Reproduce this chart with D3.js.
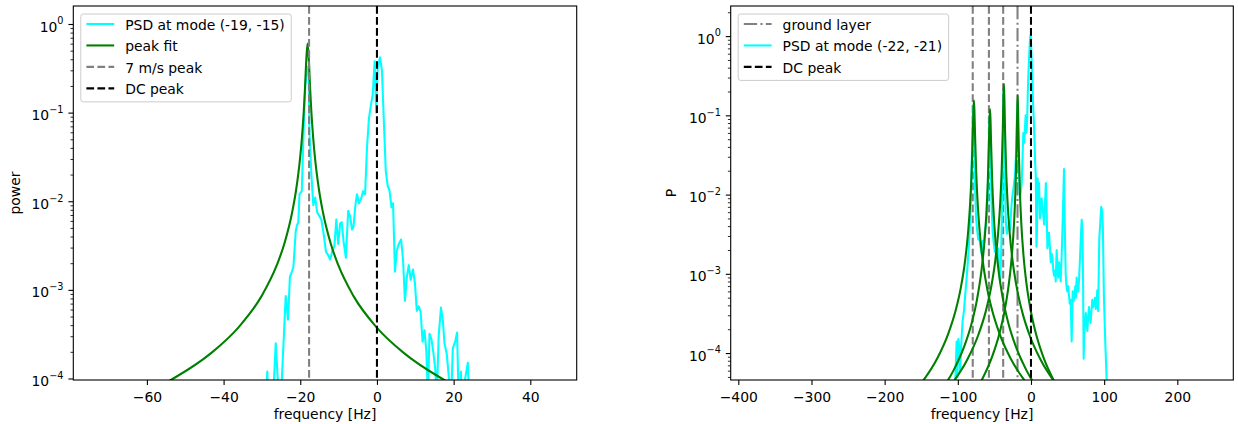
<!DOCTYPE html>
<html><head><meta charset="utf-8">
<script src="https://cdn.jsdelivr.net/npm/d3@7"></script>
<style>
body{margin:0;background:#fff}
svg{display:block}
text{font-family:"DejaVu Sans",sans-serif;fill:#000}
</style></head>
<body>
<script>
// ---------------- data ----------------
const leftXTicks = [-60,-40,-20,0,20,40];
const rightXTicks = [-400,-300,-200,-100,0,100,200];
const yTickExps = [0,-1,-2,-3,-4];

const leftLegend = ["PSD at mode (-19, -15)","peak fit","7 m/s peak","DC peak"];
const rightLegend = ["ground layer","PSD at mode (-22, -21)","DC peak"];

const leftPeakLine = -17.7;   // 7 m/s peak
const dcLine = 0;             // DC peak
const rightLayerLines = [-79.6,-57.5,-38];
const rightGroundLine = -18.4;

const leftPsd = [[-29.5,2e-5],[-28.6,1.2e-4],[-28.2,3e-5],[-27.4,3e-5],[-26.4,2.5e-4],[-25.2,3e-5],[-24.9,8e-5],
[-23.8,8.5e-4],[-23.2,4.6e-4],[-22.7,1.4e-3],[-22.2,1.6e-3],[-21.8,1.8e-3],[-21.2,4.5e-3],[-20.9,5.3e-3],[-20.5,5.8e-3],
[-20.2,0.012],[-19.6,0.013],[-19.2,0.05],[-18.7,0.2],[-18.2,0.33],[-17.8,0.25],[-17.6,0.06],[-17.1,0.02],[-16.6,0.009],
[-16.1,0.011],[-15.6,0.0075],[-15,0.0068],[-14.5,0.0062],[-13.8,0.004],[-13.3,0.0027],[-12.8,0.0025],[-12.2,0.0022],
[-11.6,0.0028],[-11.1,0.0031],[-10.6,0.0062],[-10.1,0.0033],[-9.6,0.0056],[-9.2,0.0058],[-8.7,0.0035],[-8.1,0.0023],
[-7.5,0.0078],[-7.0,0.0068],[-6.5,0.0048],[-6.1,0.0052],[-5.6,0.0092],[-5.2,0.012],[-4.7,0.0095],[-4.1,0.0108],
[-3.6,0.013],[-3.1,0.012],[-2.6,0.04],[-2.1,0.085],[-1.6,0.12],[-1.1,0.16],[-0.6,0.38],[-0.2,0.1],[0.2,0.33],[0.8,0.42],
[1.3,0.3],[1.8,0.08],[2.3,0.022],[2.8,0.015],[3.3,0.013],[3.8,0.0085],[4.2,0.0095],[4.7,0.0016],[5.2,0.0028],[5.7,0.0033],
[6.3,0.0037],[6.8,0.0022],[7.3,7.5e-4],[7.8,1.4e-3],[8.3,1.9e-3],[8.8,1.3e-3],[9.4,1.7e-3],[9.9,1.2e-3],[10.4,5.8e-4],
[10.9,6.5e-4],[11.4,5.6e-4],[11.9,2.6e-4],[12.4,3.5e-4],[12.9,2e-4],[13.3,6e-5],[13.7,3.2e-4],[14.2,2.8e-4],[14.7,2e-4],
[15.2,1.3e-4],[15.6,6e-5],[16.1,3e-4],[16.7,6.3e-4],[17.2,4.5e-4],[17.6,2.5e-4],[18.2,1.9e-4],[18.7,1.1e-4],[19.2,4e-5],
[19.8,2.2e-4],[20.4,2.6e-4],[20.9,3.3e-4],[21.4,4e-5],[21.9,1.2e-4],[22.4,3e-5],[23,1e-4],[23.7,1.5e-4],[24.3,3e-5],[25,1e-5]];

const leftFit = [[-78.1,3.4e-5],[-63.1,6.05e-5],[-53.1,1.0e-4],[-43.1,1.96e-4],[-36.1,3.78e-4],[-30.1,8.5e-4],[-26.1,1.91e-3],
[-24.1,3.38e-3],[-22.1,7.56e-3],[-21.1,0.0133],[-20.1,0.0291],[-19.6,0.0499],[-19.1,0.1017],[-18.8,0.1765],[-18.4,0.417],
[-18.1,0.6],[-17.8,0.417],[-17.4,0.1765],[-17.1,0.1017],[-16.6,0.0499],[-16.1,0.0291],[-15.1,0.0133],[-14.1,7.56e-3],
[-12.1,3.38e-3],[-10.1,1.91e-3],[-6.1,8.5e-4],[-0.1,3.78e-4],[6.9,1.96e-4],[16.9,1.0e-4],[26.9,6.05e-5],[41.9,3.4e-5]];

const rightPsd = [[-106,1e-5],[-101.6,1.4e-4],[-100.5,5e-5],[-99.3,1.5e-4],[-98,1.2e-4],[-96.8,6e-5],[-95.5,1.2e-4],
[-93.5,2.5e-4],[-91.5,3.5e-4],[-89.5,6e-4],[-87.5,1e-3],[-85.5,1.8e-3],[-83.5,4e-3],[-82,0.01],[-80.5,0.04],[-79.5,0.1],
[-78.5,0.13],[-77.5,0.06],[-76.5,0.012],[-75,0.005],[-73.5,0.0035],[-72,0.0027],[-70.5,0.0032],[-69,0.0022],[-67.5,0.0018],
[-66,0.0026],[-64.5,0.0023],[-63,0.0035],[-61.5,0.0042],[-60,0.006],[-58.5,0.015],[-57.2,0.06],[-56.3,0.1],[-55.3,0.035],
[-54,0.008],[-52.5,0.0035],[-51,0.0025],[-49.5,0.0019],[-48,0.0023],[-46.5,0.0017],[-45,0.0021],[-43.5,0.0012],[-42.2,8e-4],
[-41,0.0015],[-39.8,0.005],[-38.6,0.03],[-37.5,0.2],[-36.6,0.09],[-35.6,0.012],[-34.3,0.0045],[-33,0.0032],[-31.5,0.0038],
[-30,0.0042],[-28.5,0.0036],[-27,0.0065],[-25.8,0.009],[-24.5,0.011],[-23,0.014],[-21.8,0.018],[-20.5,0.032],[-19.3,0.09],
[-18.5,0.14],[-17.5,0.06],[-16.5,0.02],[-15.2,0.009],[-14,0.011],[-12.7,0.014],[-11.5,0.03],[-10.5,0.06],[-9.3,0.045],
[-8.2,0.07],[-7.3,0.1],[-6.2,0.06],[-5.2,0.09],[-4.3,0.2],[-3.3,0.38],[-2.3,0.6],[-1.3,0.95],[-0.3,1.05],[0.8,0.55],
[1.8,0.3],[2.8,0.14],[3.8,0.09],[4.8,0.05],[5.7,0.025],[6.5,0.018],[7.5,0.0022],[8.3,0.004],[9,0.016],[10,0.012],[11,0.014],
[12.2,0.005],[13.2,0.006],[14.5,0.009],[15.7,0.007],[16.9,0.0055],[18,0.0042],[19.2,0.008],[20.4,0.014],[21.5,0.006],
[22.4,0.0021],[23.5,0.0025],[24.6,0.0033],[25.8,0.0022],[27,0.0014],[28.2,0.0018],[29.3,0.0016],[30.5,0.0011],[31.6,0.00095],
[32.8,0.0011],[33.8,8e-4],[35.1,0.002],[36.2,0.0012],[37.2,0.0009],[38.3,0.0014],[39.5,0.0011],[40.6,8e-4],[41.8,0.0016],
[42.9,0.0033],[44,0.008],[45.1,0.021],[46.2,0.004],[47.4,0.001],[48.5,7e-4],[49.6,6e-4],[50.7,7e-4],[51.8,5.5e-4],[53,4.2e-4],
[54.2,4.7e-4],[55.6,1.4e-4],[57,6e-4],[58.2,4.5e-4],[59.4,5.2e-4],[60.6,7e-4],[61.5,5e-4],[62.4,9e-4],[63.5,6e-4],[64.7,6e-4],
[65.8,9e-4],[67,0.0016],[68.2,0.003],[69.3,0.0048],[70.4,0.0035],[71.2,8e-4],[72,8.5e-5],[72.8,1.8e-4],[73.8,2.4e-4],
[74.9,3.2e-4],[76,2.5e-4],[77,1.9e-4],[78.1,2.8e-4],[79.2,3.8e-4],[80.4,3e-4],[81.5,2.4e-4],[82.7,3.5e-4],[83.8,4.7e-4],
[85,3.8e-4],[86.3,4.2e-4],[87.5,5e-4],[88.6,3.6e-4],[89.7,4.5e-4],[90.6,6.2e-4],[91.8,3.4e-4],[93.3,0.0027],[94.7,0.0045],
[96,0.007],[97.2,0.0062],[98.2,0.004],[99.7,5e-4],[101.5,1.4e-4],[103.4,4.6e-5],[105,1e-5]];

const rightFit1 = [[-168,2.66e-5],[-148,4.4e-5],[-128,8.6e-5],[-113,1.76e-4],[-103,3.44e-4],[-96,6.6e-4],[-90,1.48e-3],
[-86,3.3e-3],[-83,8.2e-3],[-81,0.0207],[-79.5,0.059],[-78.7,0.115],[-78,0.155],[-77.3,0.115],[-76.5,0.059],[-75,0.0207],
[-73,8.2e-3],[-70,3.3e-3],[-66,1.48e-3],[-60,6.6e-4],[-53,3.44e-4],[-43,1.76e-4],[-28,8.6e-5],[-8,4.4e-5],[12,2.66e-5]];
const rightFit2 = [[-146,1.86e-5],[-126,3.07e-5],[-106,6.0e-5],[-91,1.23e-4],[-81,2.4e-4],[-74,4.63e-4],[-68,1.04e-3],
[-64,2.31e-3],[-61,5.73e-3],[-59,0.0147],[-57.5,0.043],[-56.7,0.0863],[-56,0.12],[-55.3,0.0863],[-54.5,0.043],[-53,0.0147],
[-51,5.73e-3],[-48,2.31e-3],[-44,1.04e-3],[-38,4.63e-4],[-31,2.4e-4],[-21,1.23e-4],[-6,6.0e-5],[14,3.07e-5],[34,1.86e-5]];
const rightFit3 = [[-127,2.56e-5],[-107,4.22e-5],[-87,8.28e-5],[-72,1.69e-4],[-62,3.31e-4],[-55,6.37e-4],[-49,1.43e-3],
[-45,3.19e-3],[-42,8.01e-3],[-40,0.0211],[-38.5,0.0673],[-37.7,0.157],[-37,0.25],[-36.3,0.157],[-35.5,0.0673],[-34,0.0211],
[-32,8.01e-3],[-29,3.19e-3],[-25,1.43e-3],[-19,6.37e-4],[-12,3.31e-4],[-2,1.69e-4],[13,8.28e-5],[33,4.22e-5],[53,2.56e-5]];
const rightFit4 = [[-108.2,1.35e-5],[-88.2,2.23e-5],[-68.2,4.38e-5],[-53.2,8.93e-5],[-43.2,1.75e-4],[-36.2,3.37e-4],
[-30.2,7.57e-4],[-26.2,1.69e-3],[-23.2,4.28e-3],[-21.2,0.0114],[-19.7,0.0383],[-18.9,0.0997],[-18.2,0.18],[-17.5,0.0997],
[-16.7,0.0383],[-15.2,0.0114],[-13.2,4.28e-3],[-10.2,1.69e-3],[-6.2,7.57e-4],[-0.2,3.37e-4],[6.8,1.75e-4],[16.8,8.93e-5],
[31.8,4.38e-5],[51.8,2.23e-5],[71.8,1.35e-5]];

// ---------------- drawing ----------------
const W = 1238, H = 424;
const FS = 13.9;
const LW = 2.08;
const svg = d3.select("body").append("svg").attr("width", W).attr("height", H);
const defs = svg.append("defs");

const CYAN = "#00ffff", GREEN = "#008000", GRAY = "#808080";
const DASH = "7.7,3.33", DASHDOT = "13.3,3.33,2.08,3.33";

function panel(cfg) {
  const g = svg.append("g");
  const x = d3.scaleLinear().domain(cfg.xDomain).range([cfg.left, cfg.right]);
  const y = d3.scaleLog().domain(cfg.yDomain).range([cfg.bottom, cfg.top]);
  defs.append("clipPath").attr("id", "clip" + cfg.name).append("rect")
    .attr("x", cfg.left).attr("y", cfg.top).attr("width", cfg.right - cfg.left).attr("height", cfg.bottom - cfg.top);
  const plot = g.append("g").attr("clip-path", `url(#clip${cfg.name})`);
  const line = d3.line().x(d => x(d[0])).y(d => y(d[1]));
  const smooth = d3.line().x(d => x(d[0])).y(d => y(d[1])).curve(d3.curveMonotoneX);
  const vline = (f, color, dash) => plot.append("line").attr("x1", x(f)).attr("x2", x(f))
    .attr("y1", cfg.top).attr("y2", cfg.bottom).attr("stroke", color).attr("stroke-width", LW)
    .attr("stroke-dasharray", dash);
  cfg.draw({plot, x, y, line, smooth, vline});

  // frame
  g.append("rect").attr("x", cfg.left).attr("y", cfg.top).attr("width", cfg.right - cfg.left)
    .attr("height", cfg.bottom - cfg.top).attr("fill", "none").attr("stroke", "#000").attr("stroke-width", 1.1);

  // x axis
  const xa = g.append("g").attr("transform", `translate(0,${cfg.bottom})`)
    .call(d3.axisBottom(x).tickValues(cfg.xTicks).tickSize(4.9).tickSizeOuter(0)
      .tickFormat(d => (d < 0 ? "\u2212" : "") + Math.abs(d)));
  xa.select(".domain").remove();
  xa.selectAll(".tick line").attr("stroke", "#000").attr("stroke-width", 1.1);
  xa.selectAll(".tick text").attr("y", 21.6).attr("dy", null).style("font-size", FS + "px")
    .style("font-family", '"DejaVu Sans",sans-serif').attr("fill", "#000");

  // y axis major / minor
  const majors = yTickExps.map(e => Math.pow(10, e));
  const [lo, hi] = cfg.yDomain;
  const minors = [];
  for (let e = Math.floor(Math.log10(lo)); e <= Math.ceil(Math.log10(hi)); e++)
    for (let m = 2; m <= 9; m++) { const v = m * Math.pow(10, e); if (v >= lo && v <= hi) minors.push(v); }
  const ya = g.append("g").attr("transform", `translate(${cfg.left},0)`)
    .call(d3.axisLeft(y).tickValues(majors).tickSize(4.9).tickSizeOuter(0).tickFormat(""));
  ya.select(".domain").remove();
  ya.selectAll(".tick line").attr("stroke", "#000").attr("stroke-width", 1.1);
  const ym = g.append("g").attr("transform", `translate(${cfg.left},0)`)
    .call(d3.axisLeft(y).tickValues(minors).tickSize(2.8).tickSizeOuter(0).tickFormat(""));
  ym.select(".domain").remove();
  ym.selectAll(".tick line").attr("stroke", "#000").attr("stroke-width", 0.83);
  yTickExps.forEach(e => {
    const t = g.append("text").attr("x", cfg.left - 9.8).attr("y", y(Math.pow(10, e)) + 7.6)
      .attr("text-anchor", "end").style("font-size", FS + "px");
    t.append("tspan").text("10");
    t.append("tspan").attr("dy", -7.3).style("font-size", "9.7px").text(e < 0 ? "\u2212" + (-e) : String(e));
  });

  // axis labels
  g.append("text").attr("x", (cfg.left + cfg.right) / 2).attr("y", 419).attr("text-anchor", "middle")
    .style("font-size", FS + "px").text("frequency [Hz]");
  g.append("text").attr("transform", `translate(${cfg.ylabelX},${(cfg.top + cfg.bottom) / 2}) rotate(-90)`)
    .attr("text-anchor", "middle").style("font-size", FS + "px").text(cfg.ylabel);

  // legend
  const lg = g.append("g");
  const bx = cfg.left + 7.5, by = cfg.top + 8;
  const rows = cfg.legend;
  const box = lg.append("rect").attr("x", bx).attr("y", by).attr("rx", 2.5).attr("ry", 2.5)
    .attr("fill", "#fff").attr("fill-opacity", 0.8).attr("stroke", "#cccccc").attr("stroke-width", 1);
  let maxW = 0;
  rows.forEach((r, i) => {
    const cy = by + 10 + i * 21.45;
    lg.append("line").attr("x1", bx + 5.6).attr("x2", bx + 5.6 + 27.8).attr("y1", cy).attr("y2", cy)
      .attr("stroke", r.color).attr("stroke-width", LW).attr("stroke-dasharray", r.dash || null);
    const t = lg.append("text").attr("x", bx + 44.4).attr("y", cy + 5.6).style("font-size", FS + "px").text(r.label);
    maxW = Math.max(maxW, t.node().getComputedTextLength());
  });
  box.attr("width", 44.4 + maxW + 6.5).attr("height", 10 + (rows.length - 1) * 21.45 + 13.5);
}

panel({
  name: "L", left: 73.3, right: 576.7, top: 6, bottom: 380,
  xDomain: [-79.2, 52.1], yDomain: [Math.pow(10, -4.017), Math.pow(10, 0.203)],
  xTicks: leftXTicks, ylabel: "power", ylabelX: 20.3,
  legend: [
    {label: leftLegend[0], color: CYAN},
    {label: leftLegend[1], color: GREEN},
    {label: leftLegend[2], color: GRAY, dash: DASH},
    {label: leftLegend[3], color: "#000", dash: DASH}
  ],
  draw: ({plot, line, smooth, vline}) => {
    plot.append("path").datum(leftPsd).attr("d", line).attr("fill", "none").attr("stroke", CYAN).attr("stroke-width", LW).attr("stroke-linejoin", "round");
    plot.append("path").datum(leftFit).attr("d", smooth).attr("fill", "none").attr("stroke", GREEN).attr("stroke-width", LW);
    vline(leftPeakLine, GRAY, DASH);
    vline(dcLine, "#000", DASH);
  }
});

panel({
  name: "R", left: 730.7, right: 1233.3, top: 6, bottom: 380,
  xDomain: [-410.4, 276.5], yDomain: [Math.pow(10, -4.34), Math.pow(10, 0.38)],
  xTicks: rightXTicks, ylabel: "P", ylabelX: 676,
  legend: [
    {label: rightLegend[0], color: GRAY, dash: DASHDOT},
    {label: rightLegend[1], color: CYAN},
    {label: rightLegend[2], color: "#000", dash: DASH}
  ],
  draw: ({plot, line, smooth, vline}) => {
    vline(rightGroundLine, GRAY, DASHDOT);
    rightLayerLines.forEach(f => vline(f, GRAY, DASH));
    plot.append("path").datum(rightPsd).attr("d", line).attr("fill", "none").attr("stroke", CYAN).attr("stroke-width", LW).attr("stroke-linejoin", "round");
    [rightFit1, rightFit2, rightFit3, rightFit4].forEach(fit =>
      plot.append("path").datum(fit).attr("d", smooth).attr("fill", "none").attr("stroke", GREEN).attr("stroke-width", LW));
    vline(dcLine, "#000", DASH);
  }
});
</script>
</body></html>
